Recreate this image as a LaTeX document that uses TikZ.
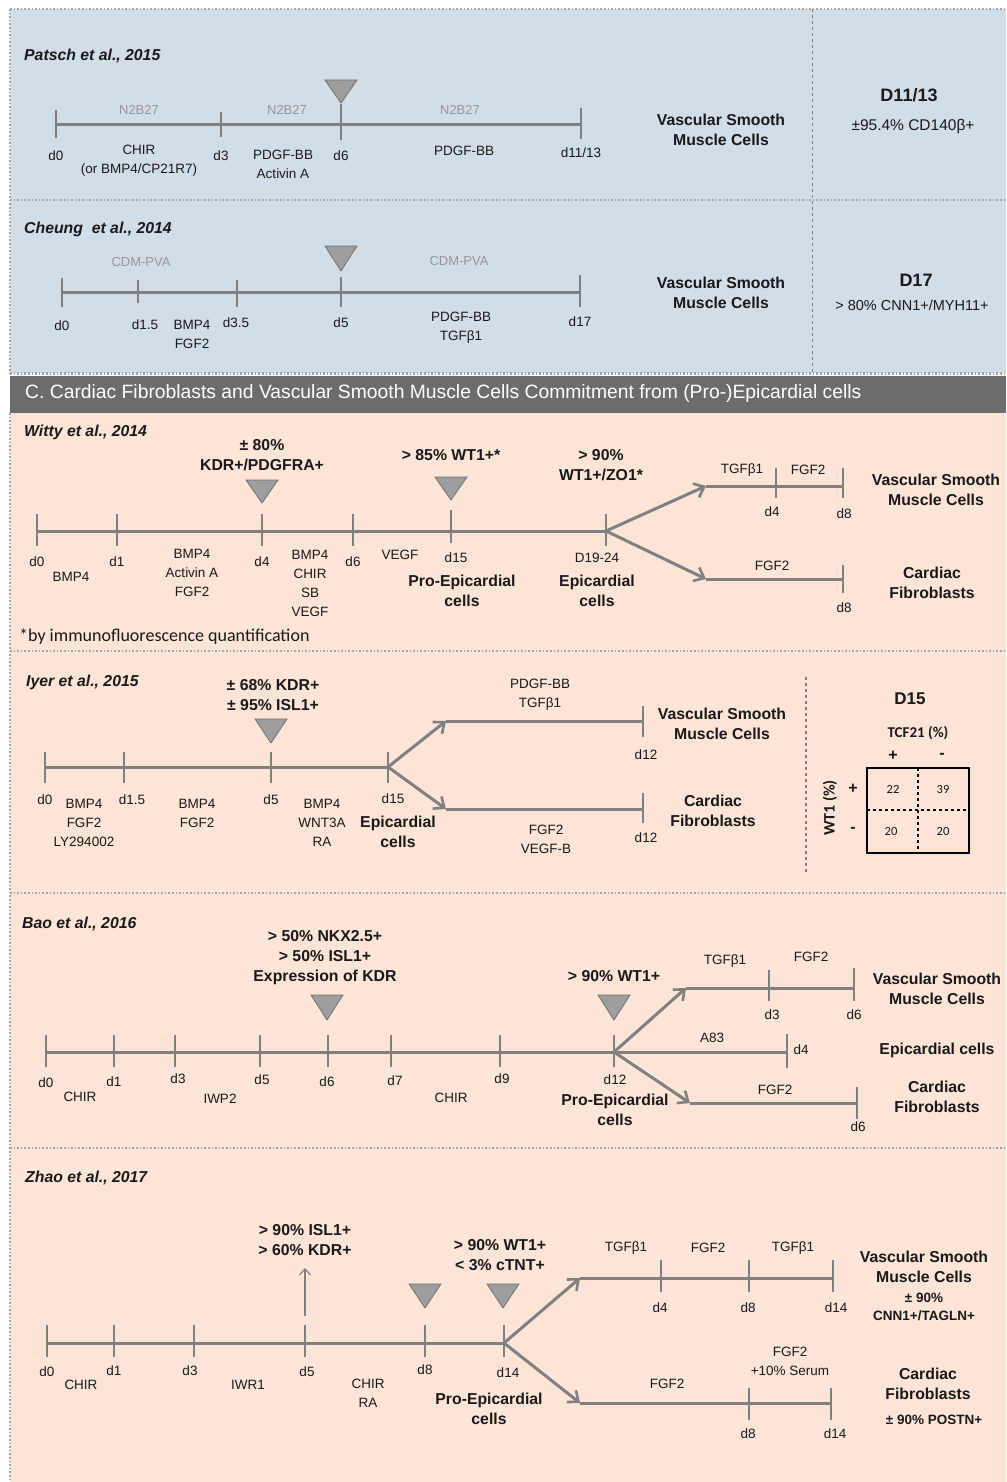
\documentclass[tikz,border=0pt]{standalone}
\usepackage{fontspec}
\setmainfont{Liberation Sans}
\newfontfamily\calfont{Carlito}
\usetikzlibrary{arrows.meta}
\definecolor{bluebg}{RGB}{209,222,231}
\definecolor{pinkbg}{RGB}{252,228,214}
\definecolor{hdr}{RGB}{108,108,108}
\definecolor{lineg}{RGB}{128,128,128}
\definecolor{trig}{RGB}{158,158,158}
\definecolor{trib}{RGB}{112,112,112}
\definecolor{glab}{RGB}{150,150,150}
\definecolor{txt}{RGB}{25,25,25}
\definecolor{brd}{RGB}{165,165,165}
\tikzset{
 tl/.style={draw=lineg, line width=3pt},
 tk/.style={draw=lineg, line width=2.4pt},
 br/.style={draw=lineg, line width=3pt, -{Straight Barb[length=9pt,width=15pt,line width=2.6pt]}},
 lab/.style={font=\fontsize{13.5}{19}\selectfont, text=txt, align=center, inner sep=0pt},
 blab/.style={font=\bfseries\fontsize{15.8}{20}\selectfont, text=txt, align=center, inner sep=0pt},
 sblab/.style={font=\bfseries\fontsize{13.5}{18}\selectfont, text=txt, align=center, inner sep=0pt},
 glabel/.style={font=\fontsize{13}{15}\selectfont, text=glab, inner sep=0pt},
 ttl/.style={font=\bfseries\itshape\fontsize{15.8}{18}\selectfont, text=txt, anchor=west, inner sep=0pt},
 bigd/.style={font=\bfseries\fontsize{18}{20}\selectfont, text=txt, inner sep=0pt},
 tri/.style={fill=trig, draw=trib, line width=0.8pt},
 dotb/.style={draw=brd, line width=1.6pt, dotted},
}
\newcommand\mytri[3]{\path[tri] (#1-16,#2) -- (#1+16,#2) -- (#1,#3) -- cycle;}
\newcommand\mytick[5]{\coordinate (#1) at (#2,#3); \draw[tk] (#2,#4) -- (#2,#5);}
\begin{document}
\begin{tikzpicture}[x=1pt,y=-1pt]
\useasboundingbox (0,0) rectangle (1006,1482);
% backgrounds
\fill[white] (0,0) rectangle (1006,1482);
\fill[bluebg] (10,9) rectangle (1006,373);
\draw[dotb] (10,9) -- (1006,9);
\draw[dotb] (10,9) -- (10,373);
\draw[dotb] (10,200) -- (1006,200);
\draw[dotb, line width=3pt] (10,373) -- (1006,373);
\draw[lineg, dashed, line width=1pt] (812,9) -- (812,373);
\fill[hdr] (10,376) rectangle (1006,413);
\fill[pinkbg] (10,413) rectangle (1006,1482);
\draw[dotb] (10,413) -- (10,1482);
\draw[dotb] (10,651) -- (1006,651);
\draw[dotb] (10,893) -- (1006,893);
\draw[dotb] (10,1148) -- (1006,1148);
\node[font=\fontsize{19.3}{22}\selectfont, text=white, anchor=west, inner sep=0pt] (hdrt) at (25,394) {C. Cardiac Fibroblasts and Vascular Smooth Muscle Cells Commitment from (Pro-)Epicardial cells};

% ===== Patsch
\node[ttl] (pt) at (24,56) {Patsch et al., 2015};
\node[glabel] (pn1) at (139,110) {N2B27};
\node[glabel] (pn2) at (287,110) {N2B27};
\node[glabel] (pn3) at (460,110) {N2B27};
\mytick{a0}{56}{125}{110}{138}
\mytick{a1}{221}{125}{112}{137}
\mytick{a2}{341}{125}{104}{140}
\mytick{a3}{581}{125}{108}{139}
\draw[tl] (a0) -- (a3);
\mytri{341}{80}{103}
\node[lab] (pd0) at (56,156) {d0};
\node[lab] (pc) at (139,160.5) {CHIR\\(or BMP4/CP21R7)};
\node[lab] (pd3) at (221,156) {d3};
\node[lab] (pp) at (283,164) {PDGF-BB\\Activin A};
\node[lab] (pd6) at (341,156) {d6};
\node[lab] (pp2) at (464,151) {PDGF-BB};
\node[lab] (pd11) at (581,153) {d11/13};
\node[blab] (pv) at (721,129.5) {Vascular Smooth\\Muscle Cells};
\node[bigd] (pD) at (909,95) {D11/13};
\node[font=\fontsize{15.5}{17}\selectfont, text=txt] (pr) at (913,126) {±95.4\% CD140β+};

% ===== Cheung
\node[ttl] (ct) at (24,229) {Cheung\ \ et al., 2014};
\node[glabel] (cn1) at (141,262) {CDM-PVA};
\node[glabel] (cn2) at (459,261) {CDM-PVA};
\mytick{c0}{62}{292}{278}{307}
\mytick{c1}{138}{292}{280}{303}
\mytick{c2}{237}{292}{280}{307}
\mytick{c3}{341}{292}{277}{307}
\mytick{c4}{580}{292}{275}{307}
\draw[tl] (c0) -- (c4);
\mytri{341}{246}{271}
\node[lab] (cd0) at (62,326) {d0};
\node[lab] (cd1) at (145,325) {d1.5};
\node[lab] (cb) at (192,334.5) {BMP4\\FGF2};
\node[lab] (cd3) at (236,323) {d3.5};
\node[lab] (cd5) at (341,323) {d5};
\node[lab] (cp) at (461,327.5) {PDGF-BB\\TGFβ1};
\node[lab] (cd17) at (580,322) {d17};
\node[blab] (cv) at (721,292.5) {Vascular Smooth\\Muscle Cells};
\node[bigd] (cD) at (916,280) {D17};
\node[font=\fontsize{14.5}{17}\selectfont, text=txt] (cr) at (912,305) {> 80\% CNN1+/MYH11+};

% ===== Witty
\node[ttl] (wt) at (24,432) {Witty et al., 2014};
\node[blab] (wk) at (262,455.5) {± 80\%\\KDR+/PDGFRA+};
\node[blab] (ww) at (451,455) {> 85\% WT1+*};
\node[blab] (wz) at (601,465.5) {> 90\%\\WT1+/ZO1*};
\mytick{w0}{37}{531}{514}{546}
\mytick{w1}{117}{531}{514}{546}
\mytick{w2}{262}{531}{514}{546}
\mytick{w3}{353}{531}{514}{546}
\mytick{w4}{451}{531}{510}{543}
\mytick{w5}{606}{531}{514}{546}
\draw[tl] (w0) -- (w5);
\mytri{262}{480}{503}
\mytri{451}{477}{500}
\coordinate (wu) at (706,486);
\mytick{wu1}{776}{486}{468}{498}
\mytick{wu2}{843}{486}{468}{498}
\coordinate (wd) at (706,579);
\mytick{wd1}{843}{579}{565}{593}
\draw[br] (w5) -- (wu);
\draw[tl] (wu) -- (wu2);
\draw[br] (w5) -- (wd);
\draw[tl] (wd) -- (wd1);
\node[lab] (wl1) at (742,470) {TGFβ1};
\node[lab] (wl2) at (808,470) {FGF2};
\node[lab] (wl3) at (772,512) {d4};
\node[lab] (wl4) at (844,514) {d8};
\node[lab] (wl5) at (772,566) {FGF2};
\node[lab] (wl6) at (844,608) {d8};
\node[blab] (wv) at (936,489.5) {Vascular Smooth\\Muscle Cells};
\node[blab] (wf) at (932,582.5) {Cardiac\\Fibroblasts};
\node[lab] (wd0) at (37,562) {d0};
\node[lab] (wb) at (71,577) {BMP4};
\node[lab] (wd1l) at (117,562) {d1};
\node[lab] (wb2) at (192,573) {BMP4\\Activin A\\FGF2};
\node[lab] (wd4) at (262,562) {d4};
\node[lab] (wb3) at (310,583) {BMP4\\CHIR\\SB\\VEGF};
\node[lab] (wd6) at (353,562) {d6};
\node[lab] (wvg) at (400,555) {VEGF};
\node[lab] (wd15) at (456,558) {d15};
\node[blab] (wpe) at (462,590.5) {Pro-Epicardial\\cells};
\node[lab] (wd19) at (597,558) {D19-24};
\node[blab] (wep) at (597,590.5) {Epicardial\\cells};
\node[font=\calfont\fontsize{18}{20}\selectfont, text=txt, anchor=west, inner sep=0pt] (wfn) at (19,637) {*by immunofluorescence quantification};

% ===== Iyer
\node[ttl] (it) at (26,682) {Iyer et al., 2015};
\node[blab] (ik) at (273,695) {± 68\% KDR+\\± 95\% ISL1+};
\mytick{i0}{45}{767}{752}{783}
\mytick{i1}{124}{767}{752}{783}
\mytick{i2}{271}{767}{752}{783}
\mytick{i3}{388}{767}{752}{783}
\draw[tl] (i0) -- (i3);
\mytri{271}{719}{743}
\coordinate (iu) at (446,721);
\mytick{iu1}{643}{721}{706}{737}
\coordinate (id) at (446,809);
\mytick{id1}{643}{809}{793}{823}
\draw[br] (i3) -- (iu);
\draw[tl] (iu) -- (iu1);
\draw[br] (i3) -- (id);
\draw[tl] (id) -- (id1);
\node[lab] (il1) at (540,694.5) {PDGF-BB\\TGFβ1};
\node[lab] (il2) at (646,755) {d12};
\node[lab] (il3) at (546,839.5) {FGF2\\VEGF-B};
\node[lab] (il4) at (646,838) {d12};
\node[blab] (iv) at (722,723.5) {Vascular Smooth\\Muscle Cells};
\node[blab] (if) at (713,810.5) {Cardiac\\Fibroblasts};
\node[lab] (id0) at (45,800) {d0};
\node[lab] (ib1) at (84,823) {BMP4\\FGF2\\LY294002};
\node[lab] (id15l) at (132,800) {d1.5};
\node[lab] (ib2) at (197,813.5) {BMP4\\FGF2};
\node[lab] (id5) at (271,800) {d5};
\node[lab] (ib3) at (322,823) {BMP4\\WNT3A\\RA};
\node[lab] (id15) at (393,799) {d15};
\node[blab] (iep) at (398,831.5) {Epicardial\\cells};
\draw[lineg, dashed, line width=1.5pt] (806,677) -- (806,873);
\node[font=\bfseries\fontsize{17}{20}\selectfont, text=txt] (iD) at (910,699) {D15};
\node[font=\calfont\bfseries\fontsize{15}{18}\selectfont, text=txt] (itcf) at (918,733) {TCF21 (\%)};
\node[font=\bfseries\fontsize{16}{18}\selectfont, text=txt] (ipl) at (893,756) {+};
\node[font=\bfseries\fontsize{16}{18}\selectfont, text=txt] (imi) at (942,756) {-};
\node[font=\calfont\bfseries\fontsize{16}{18}\selectfont, text=txt, rotate=90] (iwt) at (830,808) {WT1 (\%)};
\node[font=\bfseries\fontsize{16}{18}\selectfont, text=txt] (ipl2) at (853,789) {+};
\node[font=\bfseries\fontsize{16}{18}\selectfont, text=txt] (imi2) at (853,830) {-};
\draw[black, line width=2.2pt] (867,768) rectangle (969,853);
\draw[black, dashed, line width=1.5pt] (918,768) -- (918,853);
\draw[black, dashed, line width=1.5pt] (867,810) -- (969,810);
\node[font=\calfont\fontsize{12.5}{14}\selectfont, text=txt] (n1) at (893,789) {22};
\node[font=\calfont\fontsize{12.5}{14}\selectfont, text=txt] (n2) at (943,789) {39};
\node[font=\calfont\fontsize{12.5}{14}\selectfont, text=txt] (n3) at (891,831) {20};
\node[font=\calfont\fontsize{12.5}{14}\selectfont, text=txt] (n4) at (943,831) {20};

% ===== Bao
\node[ttl] (bt) at (22,924) {Bao et al., 2016};
\node[blab] (bk) at (325,958) {> 50\% NKX2.5+\\> 50\% ISL1+\\Expression of KDR};
\node[blab] (bw) at (614,976) {> 90\% WT1+};
\mytick{b0}{46}{1052}{1035}{1067}
\mytick{b1}{114}{1052}{1035}{1067}
\mytick{b2}{175}{1052}{1035}{1067}
\mytick{b3}{260}{1052}{1035}{1067}
\mytick{b4}{328}{1052}{1035}{1067}
\mytick{b5}{391}{1052}{1035}{1067}
\mytick{b6}{500}{1052}{1035}{1067}
\mytick{b7}{614}{1052}{1035}{1067}
\draw[tl] (b0) -- (b7);
\mytri{327}{995}{1020}
\mytri{614}{995}{1020}
\coordinate (bu) at (686,988);
\mytick{bu1}{769}{988}{970}{1001}
\mytick{bu2}{854}{988}{968}{1001}
\mytick{bm}{787}{1052}{1034}{1068}
\coordinate (bd) at (690,1103);
\mytick{bd1}{857}{1103}{1087}{1119}
\draw[br] (b7) -- (bu);
\draw[tl] (bu) -- (bu2);
\draw[tl] (b7) -- (bm);
\draw[br] (b7) -- (bd);
\draw[tl] (bd) -- (bd1);
\node[lab] (bl1) at (725,961) {TGFβ1};
\node[lab] (bl2) at (811,957) {FGF2};
\node[lab] (bl3) at (772,1015) {d3};
\node[lab] (bl4) at (854,1015) {d6};
\node[lab] (bl5) at (712,1038) {A83};
\node[lab] (bl6) at (801,1050) {d4};
\node[lab] (bl7) at (775,1090) {FGF2};
\node[lab] (bl8) at (858,1127) {d6};
\node[blab] (bv) at (937,988.5) {Vascular Smooth\\Muscle Cells};
\node[blab] (be) at (937,1050) {Epicardial cells};
\node[blab] (bf) at (937,1096.5) {Cardiac\\Fibroblasts};
\node[lab] (bd0) at (46,1083) {d0};
\node[lab] (bc1) at (80,1097) {CHIR};
\node[lab] (bd1l) at (114,1082) {d1};
\node[lab] (bd3) at (178,1079) {d3};
\node[lab] (biw) at (220,1099) {IWP2};
\node[lab] (bd5) at (262,1080) {d5};
\node[lab] (bd6) at (327,1082) {d6};
\node[lab] (bd7) at (395,1081) {d7};
\node[lab] (bc2) at (451,1098) {CHIR};
\node[lab] (bd9) at (502,1079) {d9};
\node[lab] (bd12) at (615,1080) {d12};
\node[blab] (bpe) at (615,1109.5) {Pro-Epicardial\\cells};

% ===== Zhao
\node[ttl] (zt) at (25,1178) {Zhao et al., 2017};
\node[blab] (zk) at (305,1240.5) {> 90\% ISL1+\\> 60\% KDR+};
\coordinate (za0) at (305,1316);
\coordinate (za1) at (305,1268);
\draw[lineg, line width=1.3pt, -{Straight Barb[length=6pt,width=11pt,line width=1.2pt]}] (za0) -- (za1);
\mytri{425}{1284}{1308}
\mytri{503}{1284}{1308}
\node[blab] (zw) at (500,1255.5) {> 90\% WT1+\\< 3\% cTNT+};
\mytick{z0}{47}{1343}{1325}{1357}
\mytick{z1}{114}{1343}{1325}{1357}
\mytick{z2}{194}{1343}{1325}{1357}
\mytick{z3}{305}{1343}{1325}{1357}
\mytick{z4}{425}{1343}{1325}{1357}
\mytick{z5}{504}{1343}{1325}{1357}
\draw[tl] (z0) -- (z5);
\coordinate (zu) at (580,1278);
\mytick{zu1}{661}{1278}{1260}{1292}
\mytick{zu2}{749}{1278}{1260}{1292}
\mytick{zu3}{833}{1278}{1260}{1292}
\coordinate (zd) at (580,1403);
\mytick{zd1}{749}{1403}{1388}{1420}
\mytick{zd2}{831}{1403}{1388}{1420}
\draw[br] (z5) -- (zu);
\draw[tl] (zu) -- (zu3);
\draw[br] (z5) -- (zd);
\draw[tl] (zd) -- (zd2);
\node[lab] (zl1) at (626,1248) {TGFβ1};
\node[lab] (zl2) at (708,1248) {FGF2};
\node[lab] (zl3) at (793,1248) {TGFβ1};
\node[lab] (zl4) at (660,1308) {d4};
\node[lab] (zl5) at (748,1308) {d8};
\node[lab] (zl6) at (836,1308) {d14};
\node[blab] (zv) at (924,1266.5) {Vascular Smooth\\Muscle Cells};
\node[sblab] (zvp) at (924,1307) {± 90\%\\CNN1+/TAGLN+};
\node[lab] (zl7) at (790,1361) {FGF2\\+10\% Serum};
\node[lab] (zl8) at (667,1384) {FGF2};
\node[lab] (zl9) at (748,1434) {d8};
\node[lab] (zl10) at (835,1434) {d14};
\node[blab] (zf) at (928,1384) {Cardiac\\Fibroblasts};
\node[sblab] (zfp) at (934,1420) {± 90\% POSTN+};
\node[lab] (zd0) at (47,1372) {d0};
\node[lab] (zc1) at (81,1385) {CHIR};
\node[lab] (zd1l) at (114,1371) {d1};
\node[lab] (zd3) at (190,1371) {d3};
\node[lab] (ziw) at (248,1385) {IWR1};
\node[lab] (zd5) at (307,1372) {d5};
\node[lab] (zc2) at (368,1393.5) {CHIR\\RA};
\node[lab] (zd8) at (425,1370) {d8};
\node[lab] (zd14) at (508,1373) {d14};
\node[blab] (zpe) at (489,1408.5) {Pro-Epicardial\\cells};
\end{tikzpicture}
\end{document}
